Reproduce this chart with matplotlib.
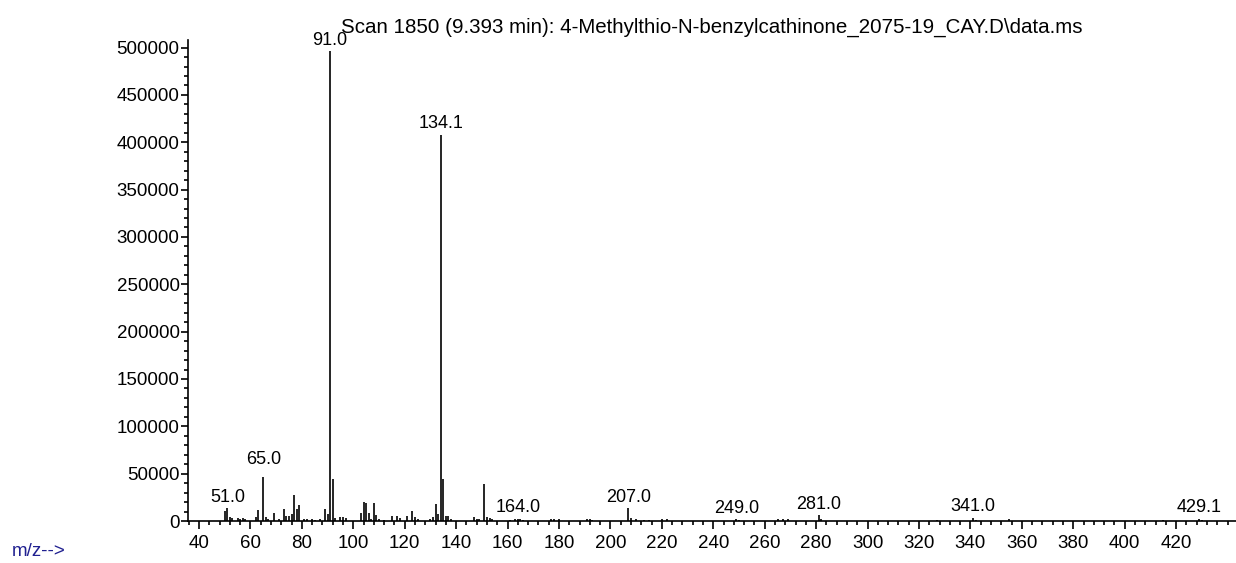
import matplotlib
matplotlib.use("Agg")
import matplotlib.pyplot as plt
from matplotlib.ticker import MultipleLocator

plt.rcParams['font.family'] = ['Liberation Sans', 'DejaVu Sans']

titulo = "Scan 1850 (9.393 min): 4-Methylthio-N-benzylcathinone_2075-19_CAY.D\\data.ms"

mz = [50, 51, 52, 53, 55, 56, 57, 58, 62, 63, 65, 66, 67, 69, 71, 73, 74, 75, 76, 77,
      78, 79, 81, 82, 84, 85, 87, 89, 90, 91, 92, 93, 95, 96, 97, 103, 104, 105, 106, 107,
      108, 109, 110, 112, 115, 117, 118, 121, 123, 124, 125, 130, 131, 132, 133, 134, 135, 136, 137, 138,
      147, 148, 149, 151, 152, 153, 154, 161, 163, 164, 165, 166, 177, 178, 180, 191, 192, 193,
      207, 208, 210, 213, 215, 220, 222, 249, 250, 265, 267, 269, 281, 282,
      327, 341, 342, 355, 415, 429, 430]
abund = [10500, 13400, 4600, 2800, 2800, 2500, 2800, 2200, 3900, 11600, 46000, 3900, 2500, 8800, 1800, 12300, 5300, 5300, 7000, 27000,
         12300, 16900, 1800, 2000, 2000, 1500, 1800, 12300, 7000, 496000, 44000, 2800, 3900, 3900, 2800, 8800, 20400, 18700, 8800, 2500,
         18700, 6300, 1800, 1500, 5300, 5300, 2800, 5300, 10500, 3900, 1800, 1800, 3900, 17600, 7400, 408000, 44000, 5300, 5300, 1800,
         4600, 1800, 1800, 39000, 4600, 3500, 1800, 1500, 2200, 2500, 2200, 1500, 1800, 2000, 2200, 1800, 2200, 1500,
         13400, 2800, 2000, 1500, 1500, 1800, 1800, 1800, 1200, 1800, 2200, 1800, 6000, 2000,
         1500, 3000, 1500, 2000, 1500, 2500, 1500]

etiquetas = [51.0, 65.0, 91.0, 134.1, 164.0, 207.0, 249.0, 281.0, 341.0, 429.1]
subida = [2, 7, 2, 2, 2, 2, 2, 2, 2, 2]  # separacion del texto sobre el pico (pt)

fig = plt.figure(figsize=(12.36, 5.63), dpi=100)
ax = fig.add_axes([188 / 1236, 42 / 563, 1 - 188 / 1236, 481 / 563])

ax.vlines(mz, 0, abund, color="black", lw=1.2)

for e, s in zip(etiquetas, subida):
    y = max(a for m, a in zip(mz, abund) if abs(m - round(e)) < 0.5)
    ax.annotate(f"{e:.1f}", (e, y), xytext=(0, s), textcoords="offset points",
                ha="center", va="bottom", fontsize=13)

ax.set_xlim(35.7, 443.3)
ax.set_ylim(0, 508000)
ax.set_xticks(range(40, 421, 20))
ax.xaxis.set_minor_locator(MultipleLocator(4))
ax.yaxis.set_major_locator(MultipleLocator(50000))
ax.yaxis.set_minor_locator(MultipleLocator(10000))
ax.tick_params(axis="both", which="major", length=5, width=1.2, labelsize=13.5)
ax.tick_params(axis="x", which="major", length=6, pad=4)
ax.tick_params(axis="y", which="major", pad=1)
ax.tick_params(axis="both", which="minor", length=3, width=1.2)
ax.spines["top"].set_visible(False)
ax.spines["right"].set_visible(False)
ax.spines["left"].set_linewidth(1.2)
ax.spines["bottom"].set_linewidth(1.2)

ax.set_title(titulo, fontsize=14.8, pad=5)
fig.text(12 / 1236, 1 - 551 / 563, "m/z-->", color="#202090", fontsize=13.5, va="center")

fig.savefig("out.png", dpi=100)
